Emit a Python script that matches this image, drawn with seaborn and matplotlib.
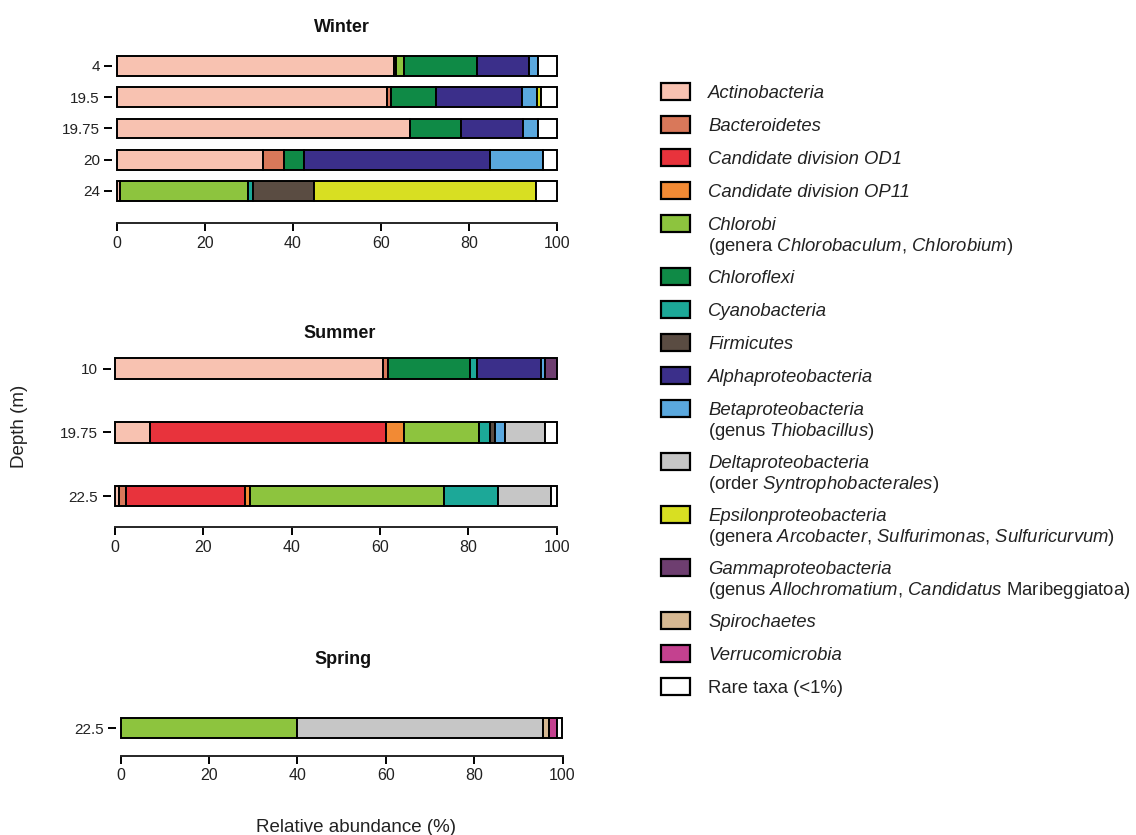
import numpy as np
import pandas as pd
import matplotlib
matplotlib.use("Agg")
import matplotlib.pyplot as plt
from matplotlib.patches import Rectangle
import seaborn as sns

# Taxa in stacking order, with their fill colours
taxa = ["Actinobacteria", "Bacteroidetes", "Candidate division OD1",
        "Candidate division OP11", "Chlorobi", "Chloroflexi", "Cyanobacteria",
        "Firmicutes", "Alphaproteobacteria", "Betaproteobacteria",
        "Deltaproteobacteria", "Epsilonproteobacteria", "Gammaproteobacteria",
        "Spirochaetes", "Verrucomicrobia", "Rare taxa (<1%)"]
taxon_colors = ["#F8C2B1", "#D9785A", "#E8333C", "#F28A34", "#8DC43E", "#0F8A46",
                "#1CA898", "#5A4C42", "#3B2F8A", "#5AA8DE", "#C6C6C6", "#D8DF22",
                "#6E3E70", "#D6B892", "#C4418F", "#FFFFFF"]

# Relative abundance (%) per depth, one value per taxon (same order as `taxa`)
winter_depths = ["4", "19.5", "19.75", "20", "24"]
winter_4 = [63.0, 0.5, 0, 0, 1.7, 16.5, 0, 0, 11.9, 2.0, 0, 0, 0, 0, 0, 4.4]
winter_19_5 = [61.3, 0.9, 0, 0, 0, 10.2, 0, 0, 19.6, 3.4, 0, 0.9, 0, 0, 0, 3.7]
winter_19_75 = [66.6, 0, 0, 0, 0, 11.5, 0, 0, 14.2, 3.4, 0, 0, 0, 0, 0, 4.3]
winter_20 = [33.1, 4.9, 0, 0, 0, 4.4, 0, 0, 42.3, 12.1, 0, 0, 0, 0, 0, 3.2]
winter_24 = [0.8, 0, 0, 0, 29.1, 0, 1.1, 13.8, 0, 0, 0, 50.3, 0, 0, 0, 4.9]

summer_depths = ["10", "19.75", "22.5"]
summer_10 = [60.7, 1.0, 0, 0, 0, 18.7, 1.5, 0, 14.5, 1.0, 0, 0, 2.6, 0, 0, 0]
summer_19_75 = [8.0, 0, 53.4, 4.0, 17.0, 0, 2.6, 1.1, 0, 2.2, 9.1, 0, 0, 0, 0, 2.6]
summer_22_5 = [0.8, 1.8, 26.9, 1.1, 43.9, 0, 12.2, 0, 0, 0, 11.9, 0, 0, 0, 0, 1.4]

spring_depths = ["22.5"]
spring_22_5 = [0, 0, 0, 0, 40.0, 0, 0, 0, 0, 0, 55.7, 0, 0, 1.3, 1.8, 1.2]

sns.set_style("ticks")
plt.rcParams["font.family"] = ["Liberation Sans", "DejaVu Sans"]
plt.rcParams["mathtext.fontset"] = "custom"
plt.rcParams["mathtext.rm"] = "Liberation Sans"
plt.rcParams["mathtext.it"] = "Liberation Sans:italic"
plt.rcParams["axes.linewidth"] = 1.4

FIG_W, FIG_H = 1136, 835
fig = plt.figure(figsize=(FIG_W / 100, FIG_H / 100), dpi=100)
EDGE = 1.4
TEXT = "#222222"


def add_panel(x0, x100, top, bottom):
    """Axes whose 0 and 100 land at pixel columns x0 / x100 (spine at `bottom`)."""
    s = (x100 - x0) / 100.0
    left = x0 - 1.0 * s
    width = 102.0 * s
    return fig.add_axes([left / FIG_W, 1 - bottom / FIG_H,
                         width / FIG_W, (bottom - top) / FIG_H])


def draw_season(ax, depths, rows, first_c, step, top, bottom, bar_px):
    frame = pd.DataFrame(rows, index=depths, columns=taxa)
    start = frame.cumsum(axis=1) - frame
    for taxon, color in zip(taxa, taxon_colors):
        seg = frame[taxon]
        keep = seg > 0
        if not keep.any():
            continue
        sub = pd.DataFrame({"depth": list(seg.index[keep]),
                            "value": seg[keep].values})
        sns.barplot(data=sub, x="value", y="depth", order=depths, orient="y",
                    color=color, saturation=1, edgecolor="black",
                    linewidth=EDGE, width=bar_px / step, errorbar=None,
                    left=start[taxon][keep].values, ax=ax)
    n = len(depths)
    ax.set_ylim((n - 1) + (bottom - (first_c + (n - 1) * step)) / step,
                -(first_c - top) / step)
    ax.set_xlim(-1, 101)
    ax.set_xticks([0, 20, 40, 60, 80, 100])
    ax.set_xlabel("")
    ax.set_ylabel("")
    for side in ("top", "right", "left"):
        ax.spines[side].set_visible(False)
    ax.spines["bottom"].set_bounds(0, 100)
    ax.spines["bottom"].set_linewidth(EDGE)
    ax.tick_params(axis="x", length=6, width=EDGE, labelsize=11.5, pad=3,
                   color="black", labelcolor=TEXT)
    ax.tick_params(axis="y", length=6, width=EDGE, labelsize=11, pad=3,
                   color="black", labelcolor=TEXT)
    ax.patch.set_alpha(0)


ax_w = add_panel(116.7, 557.3, 50, 223)
draw_season(ax_w, winter_depths,
            [winter_4, winter_19_5, winter_19_75, winter_20, winter_24],
            66, 31.25, 50, 223, 19.5)

ax_s = add_panel(115.0, 556.7, 345, 527)
draw_season(ax_s, summer_depths, [summer_10, summer_19_75, summer_22_5],
            368.5, 63.75, 345, 527, 20.5)

ax_p = add_panel(120.5, 562.5, 700, 756)
draw_season(ax_p, spring_depths, [spring_22_5], 728, 64, 700, 756, 20)


def fig_xy(x, y):
    return x / FIG_W, 1 - y / FIG_H


for title, (tx, ty) in [("Winter", (342, 27)), ("Summer", (340, 333)),
                        ("Spring", (343, 660))]:
    fig.text(*fig_xy(tx, ty), title, ha="center", va="center",
             fontsize=13, fontweight="bold", color="#111111")

fig.text(*fig_xy(356, 827), "Relative abundance (%)", ha="center", va="center",
         fontsize=13.5, color=TEXT)
fig.text(*fig_xy(20, 426), "Depth (m)", ha="center", va="center",
         rotation=90, fontsize=13.5, color=TEXT)

# Legend: swatch plus (possibly two-line) label; first line is the taxon name
# in italics, the optional second line mixes upright and italic words
legend_lines = [
    ["Actinobacteria"],
    ["Bacteroidetes"],
    ["Candidate division OD1"],
    ["Candidate division OP11"],
    ["Chlorobi", r"(genera $\mathit{Chlorobaculum}$, $\mathit{Chlorobium}$)"],
    ["Chloroflexi"],
    ["Cyanobacteria"],
    ["Firmicutes"],
    ["Alphaproteobacteria"],
    ["Betaproteobacteria", r"(genus $\mathit{Thiobacillus}$)"],
    ["Deltaproteobacteria", r"(order $\mathit{Syntrophobacterales}$)"],
    ["Epsilonproteobacteria",
     r"(genera $\mathit{Arcobacter}$, $\mathit{Sulfurimonas}$, $\mathit{Sulfuricurvum}$)"],
    ["Gammaproteobacteria",
     r"(genus $\mathit{Allochromatium}$, $\mathit{Candidatus}$ Maribeggiatoa)"],
    ["Spirochaetes"],
    ["Verrucomicrobia"],
    ["Rare taxa (<1%)"],
]

LEG_FS = 13.3
baseline = 98.0
for i, (lines, color) in enumerate(zip(legend_lines, taxon_colors)):
    sw_top = baseline - 15.5
    x0, y0 = fig_xy(661, sw_top + 17)
    fig.add_artist(Rectangle((x0, y0), 29 / FIG_W, 17 / FIG_H,
                             transform=fig.transFigure, facecolor=color,
                             edgecolor="black", linewidth=1.6))
    first_style = "normal" if i == len(legend_lines) - 1 else "italic"
    fig.text(*fig_xy(708, baseline), lines[0], ha="left", va="baseline",
             fontsize=LEG_FS, fontstyle=first_style, color=TEXT)
    for k, line in enumerate(lines[1:], start=1):
        fig.text(*fig_xy(708, baseline + 21 * k), line, ha="left",
                 va="baseline", fontsize=LEG_FS, color=TEXT)
    baseline += 33 + 20 * (len(lines) - 1)

fig.savefig("out.png", dpi=100)
